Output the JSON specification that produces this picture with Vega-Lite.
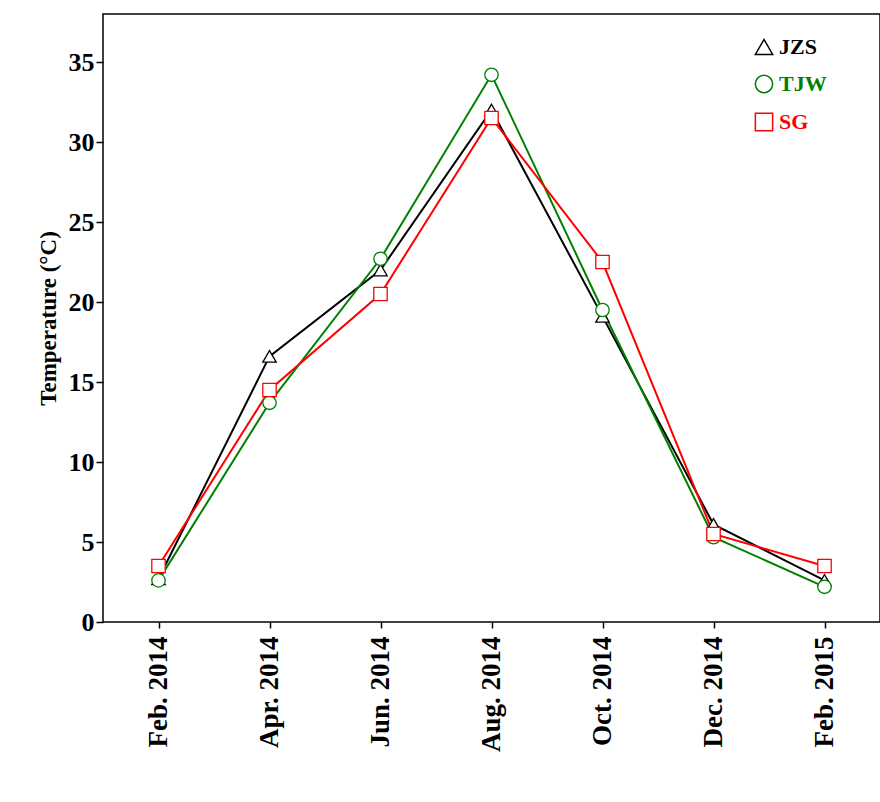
{
"$schema":"https://vega.github.io/schema/vega-lite/v6.json",
"autosize":"none",
"width":777,"height":608,
"padding":{"left":103,"top":14,"right":1,"bottom":180},
"background":"white",
"config":{"view":{"stroke":"black","strokeWidth":1.5},"font":"Liberation Serif"},
"data":{"values":[
{"m":"Feb. 2014","s":"JZS","v":2.7},{"m":"Apr. 2014","s":"JZS","v":16.6},{"m":"Jun. 2014","s":"JZS","v":22},{"m":"Aug. 2014","s":"JZS","v":32},{"m":"Oct. 2014","s":"JZS","v":19.1},{"m":"Dec. 2014","s":"JZS","v":6.1},{"m":"Feb. 2015","s":"JZS","v":2.6},
{"m":"Feb. 2014","s":"TJW","v":2.6},{"m":"Apr. 2014","s":"TJW","v":13.7},{"m":"Jun. 2014","s":"TJW","v":22.7},{"m":"Aug. 2014","s":"TJW","v":34.2},{"m":"Oct. 2014","s":"TJW","v":19.5},{"m":"Dec. 2014","s":"TJW","v":5.3},{"m":"Feb. 2015","s":"TJW","v":2.2},
{"m":"Feb. 2014","s":"SG","v":3.5},{"m":"Apr. 2014","s":"SG","v":14.5},{"m":"Jun. 2014","s":"SG","v":20.5},{"m":"Aug. 2014","s":"SG","v":31.5},{"m":"Oct. 2014","s":"SG","v":22.5},{"m":"Dec. 2014","s":"SG","v":5.5},{"m":"Feb. 2015","s":"SG","v":3.5}
]},
"encoding":{
"x":{"field":"m","type":"ordinal","sort":null,"scale":{"type":"point","padding":0.5},"axis":{"title":null,"labelAngle":-90,"labelFontSize":27,"labelFontWeight":"bold","labelColor":"black","labelPadding":8,"domain":false,"tickColor":"black","tickSize":6,"tickWidth":1.5,"grid":false}},
"y":{"field":"v","type":"quantitative","scale":{"domain":[0,38],"nice":false},"axis":{"title":"Temperature (°C)","titleFontSize":23,"titleFontWeight":"bold","titleColor":"black","titlePadding":8,"labelFontSize":26,"labelFontWeight":"bold","labelColor":"black","values":[0,5,10,15,20,25,30,35],"domain":false,"tickColor":"black","tickSize":7,"tickWidth":1.5,"grid":false}},
"color":{"field":"s","type":"nominal","scale":{"domain":["JZS","TJW","SG"],"range":["black","green","red"]},
"legend":{"title":null,"orient":"none","legendX":650,"legendY":22,"symbolSize":300,"symbolStrokeWidth":1.5,"symbolFillColor":"white","labelFontSize":22,"labelFontWeight":"bold","rowPadding":14,
"encode":{"labels":{"update":{"fill":{"signal":"datum.value==='JZS'?'black':datum.value==='TJW'?'green':'red'"}}}}}}
},
"layer":[
{"mark":{"type":"line","strokeWidth":2}},
{"mark":{"type":"point","filled":false,"fill":"white","fillOpacity":1,"size":180,"strokeWidth":1.3,"opacity":1},
"encoding":{"shape":{"field":"s","type":"nominal","scale":{"domain":["JZS","TJW","SG"],"range":["triangle-up","circle","square"]}}}}
]
}
